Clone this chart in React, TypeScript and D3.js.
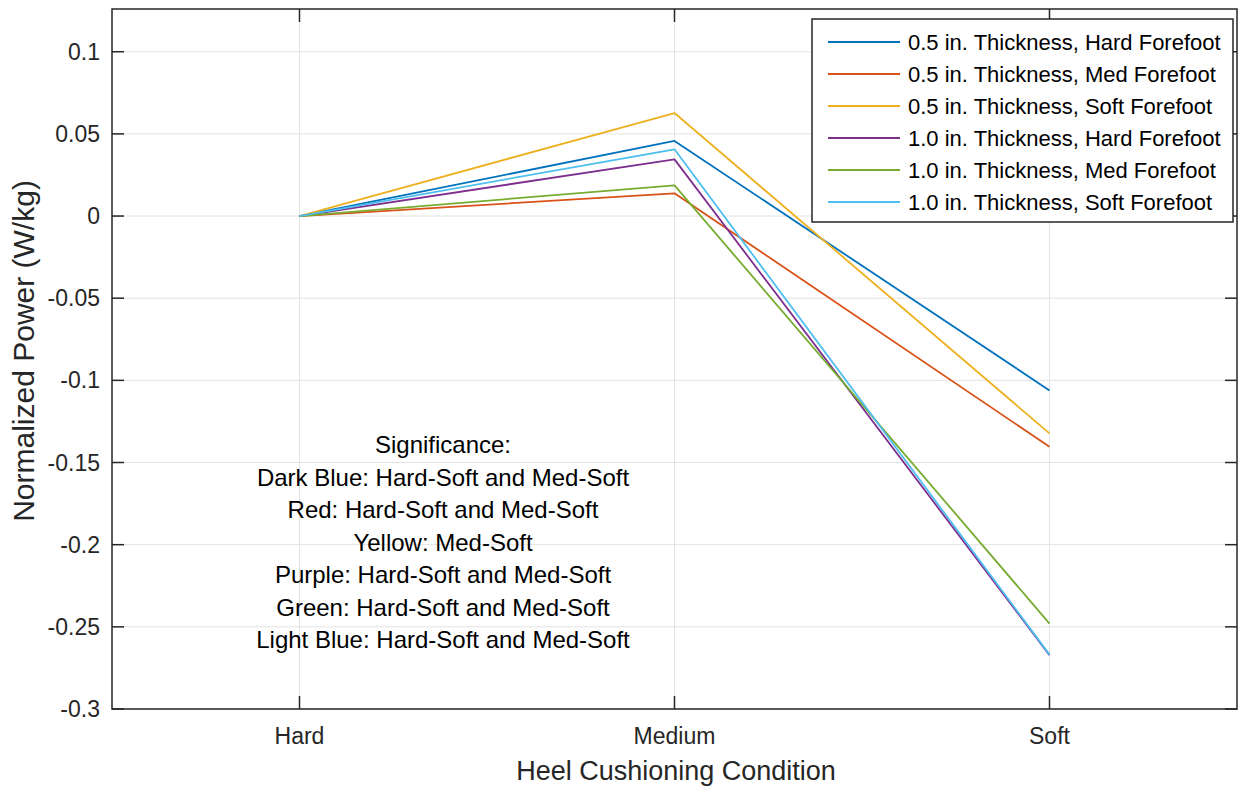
import React, { useRef, useEffect } from "react";
import * as d3 from "d3";

const categories = ["Hard", "Medium", "Soft"];
const seriesNames = [
  "0.5 in. Thickness, Hard Forefoot",
  "0.5 in. Thickness, Med Forefoot",
  "0.5 in. Thickness, Soft Forefoot",
  "1.0 in. Thickness, Hard Forefoot",
  "1.0 in. Thickness, Med Forefoot",
  "1.0 in. Thickness, Soft Forefoot",
];
const halfHard = [0, 0.0457, -0.1061];
const halfMed = [0, 0.0138, -0.1404];
const halfSoft = [0, 0.0627, -0.1323];
const oneHard = [0, 0.0345, -0.2672];
const oneMed = [0, 0.0187, -0.248];
const oneSoft = [0, 0.0406, -0.2669];
const seriesValues = [halfHard, halfMed, halfSoft, oneHard, oneMed, oneSoft];
const colors = ["#0072BD", "#D95319", "#EDB120", "#7E2F8E", "#77AC30", "#4DBEEE"];
const yTicks = [0.1, 0.05, 0, -0.05, -0.1, -0.15, -0.2, -0.25, -0.3];
const notes = [
  "Significance:",
  "Dark Blue: Hard-Soft and Med-Soft",
  "Red: Hard-Soft and Med-Soft",
  "Yellow: Med-Soft",
  "Purple: Hard-Soft and Med-Soft",
  "Green: Hard-Soft and Med-Soft",
  "Light Blue: Hard-Soft and Med-Soft",
];

const W = 1238;
const H = 789;
const FONT = "'Liberation Sans', Arial, Helvetica, sans-serif";
const AX = "#262626";

export default function App() {
  const ref = useRef(null);

  useEffect(() => {
    const svg = d3.select(ref.current);
    svg.selectAll("*").remove();

    const left = 112, right = 1237, top = 9, bottom = 709;
    const x = d3.scaleLinear().domain([0.5, 3.5]).range([left, right]);
    const y = d3.scaleLinear().domain([-0.3, 0.126]).range([bottom, top]);

    svg.append("rect").attr("width", W).attr("height", H).attr("fill", "#fff");

    // grid
    const grid = svg.append("g").attr("stroke", "#e3e3e3").attr("stroke-width", 1);
    yTicks.forEach((t) => {
      grid.append("line").attr("x1", left).attr("x2", right).attr("y1", y(t)).attr("y2", y(t));
    });
    categories.forEach((_, i) => {
      grid.append("line").attr("x1", x(i + 1)).attr("x2", x(i + 1)).attr("y1", top).attr("y2", bottom);
    });

    // lines
    const line = d3.line<number>().x((_, i) => x(i + 1)).y((d) => y(d));
    seriesValues.forEach((vals, k) => {
      svg.append("path")
        .datum(vals)
        .attr("fill", "none")
        .attr("stroke", colors[k])
        .attr("stroke-width", 1.8)
        .attr("stroke-linejoin", "round")
        .attr("d", line);
    });

    // box and ticks
    const ax = svg.append("g").attr("stroke", AX).attr("stroke-width", 1.5);
    ax.append("rect").attr("x", left).attr("y", top).attr("width", right - left).attr("height", bottom - top).attr("fill", "none");
    yTicks.forEach((t) => {
      ax.append("line").attr("x1", left).attr("x2", left + 12).attr("y1", y(t)).attr("y2", y(t));
      ax.append("line").attr("x1", right).attr("x2", right - 12).attr("y1", y(t)).attr("y2", y(t));
    });
    categories.forEach((_, i) => {
      ax.append("line").attr("x1", x(i + 1)).attr("x2", x(i + 1)).attr("y1", bottom).attr("y2", bottom - 13);
      ax.append("line").attr("x1", x(i + 1)).attr("x2", x(i + 1)).attr("y1", top).attr("y2", top + 13);
    });

    // tick labels
    yTicks.forEach((t) => {
      svg.append("text")
        .attr("x", left - 12).attr("y", y(t)).attr("dy", "0.35em")
        .attr("text-anchor", "end")
        .attr("font-family", FONT).attr("font-size", 23).attr("fill", AX)
        .text(String(t));
    });
    categories.forEach((c, i) => {
      svg.append("text")
        .attr("x", x(i + 1)).attr("y", bottom + 35)
        .attr("text-anchor", "middle")
        .attr("font-family", FONT).attr("font-size", 23).attr("fill", AX)
        .text(c);
    });

    // axis titles
    svg.append("text")
      .attr("x", 676).attr("y", 780)
      .attr("text-anchor", "middle")
      .attr("font-family", FONT).attr("font-size", 27).attr("fill", AX)
      .text("Heel Cushioning Condition");
    svg.append("text")
      .attr("transform", `translate(34,351) rotate(-90)`)
      .attr("text-anchor", "middle")
      .attr("font-family", FONT).attr("font-size", 30).attr("fill", AX)
      .text("Normalized Power (W/kg)");

    // annotation
    notes.forEach((n, i) => {
      svg.append("text")
        .attr("x", 443).attr("y", 445 + i * 32.5).attr("dy", "0.35em")
        .attr("text-anchor", "middle")
        .attr("font-family", FONT).attr("font-size", 24).attr("fill", "#000")
        .text(n);
    });

    // legend
    const lg = svg.append("g");
    lg.append("rect").attr("x", 812).attr("y", 19).attr("width", 421).attr("height", 203)
      .attr("fill", "#fff").attr("stroke", AX).attr("stroke-width", 1.5);
    seriesNames.forEach((s, i) => {
      const ly = 42 + i * 32;
      lg.append("line").attr("x1", 828).attr("x2", 900).attr("y1", ly).attr("y2", ly)
        .attr("stroke", colors[i]).attr("stroke-width", 1.8);
      lg.append("text").attr("x", 908).attr("y", ly).attr("dy", "0.35em")
        .attr("font-family", FONT).attr("font-size", 22).attr("fill", "#000")
        .text(s);
    });
  }, []);

  return (
    <svg ref={ref} width={W} height={H} style={{ position: "fixed", left: 0, top: 0 }} />
  );
}
